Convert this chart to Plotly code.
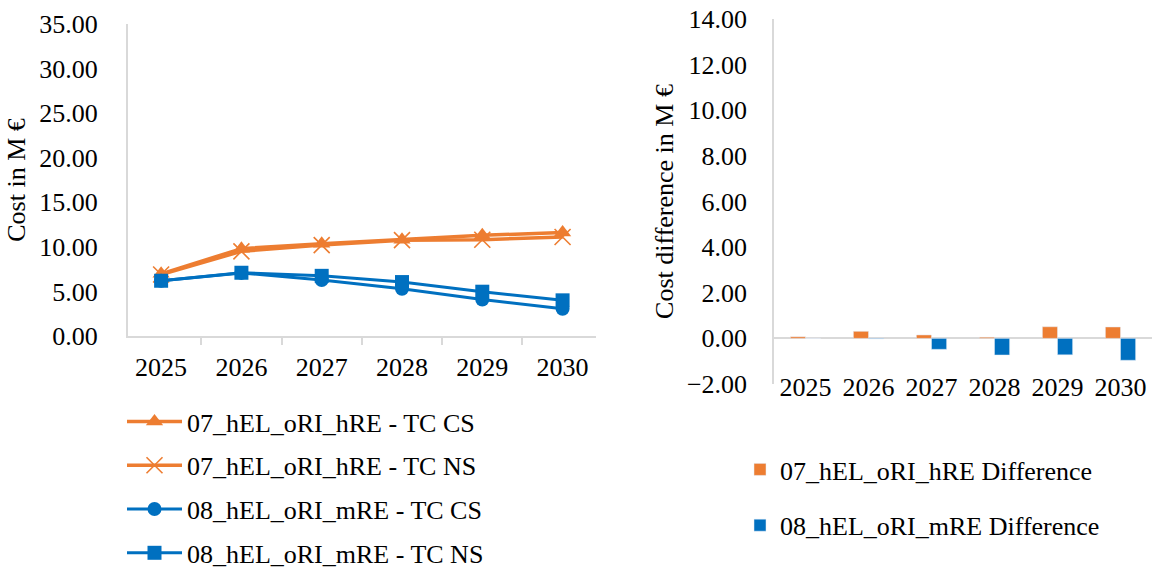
import plotly.graph_objects as go

# Years shown on both category axes
years = ["2025", "2026", "2027", "2028", "2029", "2030"]

# Total cost (M €) per scenario and storage case
cost_07_cs = [6.97, 9.80, 10.35, 10.80, 11.30, 11.60]
cost_07_ns = [6.90, 9.50, 10.20, 10.75, 10.80, 11.10]
cost_08_cs = [6.20, 7.08, 6.27, 5.30, 4.10, 3.05]
cost_08_ns = [6.20, 7.10, 6.75, 6.05, 4.97, 4.00]

# Cost difference (M €) per scenario
diff_07 = [0.07, 0.31, 0.15, 0.05, 0.51, 0.50]
diff_08 = [0.00, -0.02, -0.48, -0.73, -0.72, -0.96]

ORANGE = "#ED7D31"
BLUE = "#0070C0"
GRID = "#D9D9D9"
FONT = "Liberation Serif, Times New Roman, serif"
FS = 26

W, H = 1153, 574


def px_x(p):
    return p / W


def px_y(p):
    return 1 - p / H


fig = go.Figure()

fig.add_trace(go.Scatter(
    x=years, y=cost_07_cs, name="07_hEL_oRI_hRE - TC CS",
    mode="lines+markers", line=dict(color=ORANGE, width=3.5),
    marker=dict(symbol="triangle-up", size=15, color=ORANGE),
    xaxis="x", yaxis="y", legend="legend", legendgroup="a"))
fig.add_trace(go.Scatter(
    x=years, y=cost_07_ns, name="07_hEL_oRI_hRE - TC NS",
    mode="lines+markers", line=dict(color=ORANGE, width=3.5),
    marker=dict(symbol="x-thin", size=16, color=ORANGE,
                line=dict(color=ORANGE, width=1.6)),
    xaxis="x", yaxis="y", legend="legend", legendgroup="b"))
fig.add_trace(go.Scatter(
    x=years, y=cost_08_cs, name="08_hEL_oRI_mRE - TC CS",
    mode="lines+markers", line=dict(color=BLUE, width=3),
    marker=dict(symbol="circle", size=14, color=BLUE),
    xaxis="x", yaxis="y", legend="legend", legendgroup="c"))
fig.add_trace(go.Scatter(
    x=years, y=cost_08_ns, name="08_hEL_oRI_mRE - TC NS",
    mode="lines+markers", line=dict(color=BLUE, width=3),
    marker=dict(symbol="square", size=14, color=BLUE),
    xaxis="x", yaxis="y", legend="legend", legendgroup="d"))

fig.add_trace(go.Bar(
    x=years, y=diff_07, name="07_hEL_oRI_hRE Difference",
    marker=dict(color=ORANGE), xaxis="x2", yaxis="y2",
    legend="legend2", legendgroup="e"))
fig.add_trace(go.Bar(
    x=years, y=diff_08, name="08_hEL_oRI_mRE Difference",
    marker=dict(color=BLUE), xaxis="x2", yaxis="y2",
    legend="legend2", legendgroup="f"))

tick_font = dict(family=FONT, size=FS, color="#000000")

fig.update_layout(
    width=W, height=H,
    margin=dict(l=0, r=0, t=0, b=0, autoexpand=False),
    paper_bgcolor="white", plot_bgcolor="white",
    font=dict(family=FONT, size=FS, color="#000000"),
    barmode="group", bargap=0.52, bargroupgap=0,
    xaxis=dict(
        domain=[px_x(127.7), px_x(596)], anchor="y", type="category",
        showline=True, linecolor=GRID, linewidth=1.5,
        ticks="outside", tickson="boundaries", ticklen=7, tickcolor=GRID,
        tickwidth=1.5, showgrid=False, tickfont=tick_font,
        ticklabelstandoff=7),
    yaxis=dict(
        domain=[px_y(336), px_y(24)], anchor="x", range=[0, 35],
        dtick=5, tickformat=".2f", showline=True, linecolor=GRID,
        linewidth=1.5, showgrid=False, zeroline=False, ticks="",
        tickfont=tick_font, ticklabelstandoff=23,
        title=dict(text="Cost in M €", font=dict(family=FONT, size=FS),
                   standoff=6)),
    xaxis2=dict(
        domain=[px_x(774), px_x(1152)], anchor="y2", type="category",
        showline=False, ticks="", showgrid=False, tickfont=tick_font,
        ticklabelstandoff=-15),
    yaxis2=dict(
        domain=[px_y(384), px_y(19)], anchor="x2", range=[-2, 14],
        dtick=2, tickformat=".2f", showline=True, linecolor=GRID,
        linewidth=1.5, showgrid=False, zeroline=True, zerolinecolor=GRID,
        zerolinewidth=2, ticks="", tickfont=tick_font, ticklabelstandoff=20,
        title=dict(text="Cost difference in M €",
                   font=dict(family=FONT, size=FS), standoff=6)),
    legend=dict(
        x=px_x(122), y=px_y(398), xanchor="left", yanchor="top",
        bgcolor="rgba(0,0,0,0)", font=dict(family=FONT, size=FS),
        itemwidth=55, tracegroupgap=7, traceorder="grouped"),
    legend2=dict(
        x=px_x(740), y=px_y(446), xanchor="left", yanchor="top",
        bgcolor="rgba(0,0,0,0)", font=dict(family=FONT, size=FS),
        itemwidth=30, tracegroupgap=19, traceorder="grouped"),
    showlegend=True,
)

fig.write_html("out.html", config=dict(displayModeBar=False))
